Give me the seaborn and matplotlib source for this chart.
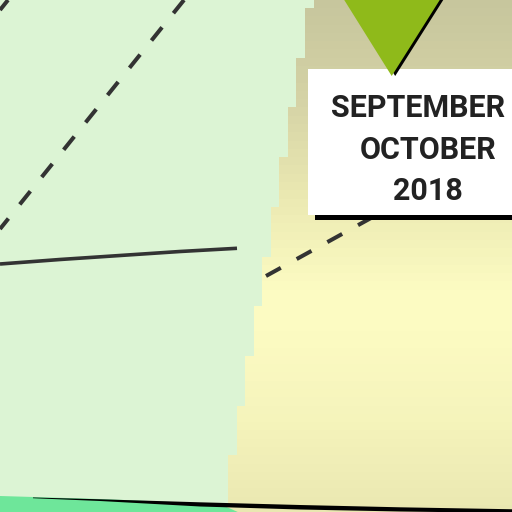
import numpy as np
import matplotlib
matplotlib.use("Agg")
import matplotlib.pyplot as plt
from matplotlib.colors import LinearSegmentedColormap
import seaborn as sns

# background bands (heatmap rows, top to bottom, ~8 px each)
row_shade = [0.00, 0.02, 0.04, 0.06, 0.08, 0.10, 0.12, 0.15, 0.17, 0.19,
             0.22, 0.24, 0.27, 0.29, 0.32, 0.35, 0.38, 0.41, 0.44, 0.47,
             0.50, 0.53, 0.56, 0.59, 0.62, 0.65, 0.68, 0.71, 0.74, 0.77,
             0.80, 0.83, 0.86, 0.89, 0.92, 0.95, 0.97, 0.99, 1.00, 1.00,
             1.00, 0.99, 0.98, 0.97, 0.96, 0.95, 0.94, 0.93, 0.91, 0.90,
             0.89, 0.87, 0.86, 0.84, 0.82, 0.80, 0.78, 0.76, 0.74, 0.72,
             0.70, 0.68, 0.66, 0.64, 0.62, 0.60]
# column where the green part ends, per step of the staircase
step_edge_col = [37, 36, 35, 34, 33, 32, 31, 30, 29, 28, 27, 26]
n_cols = 61

# lines (pixel coords of the picture)
dash_a_x = [184, 0]
dash_a_y = [0, 229]
dash_b_x = [8, 0]
dash_b_y = [0, 10]
dash_c_x = [266, 400]
dash_c_y = [276, 202]
solid_x = [0, 60, 120, 180, 237]
solid_y = [264, 259.5, 255.5, 251.5, 248.3]

# pointer, label box, bottom ribbon
tri_x = [343, 441, 391.7]
tri_y = [-2, -2, 76]
box_x = [308, 520, 520, 308]
box_y = [69, 69, 215, 215]
label_lines = ["SEPTEMBER", "OCTOBER", "2018"]
label_x = [418, 428, 428]
label_y = [108, 150, 191]
ribbon_x = [0, 100, 220, 240, 0]
ribbon_y = [496, 499, 504, 513, 513]
edge_top_x = [33, 100, 200, 300, 400, 515]
edge_top_y = [497.5, 499.3, 502.3, 505.0, 507.3, 509.3]
edge_bot_y = [498.2, 501.0, 506.5, 509.5, 511.5, 513.0]

green_bg = "#dcf4d4"
fig = plt.figure(figsize=(5.12, 5.12), dpi=100, facecolor=green_bg)

# heatmap background
n_rows = len(row_shade)
cw, rh = 8.55, 24.85 / 3
x0, y0 = -2.8, -16.85
hax = fig.add_axes([x0 / 512, 1 - (y0 + rh * n_rows) / 512,
                    cw * n_cols / 512, rh * n_rows / 512])
grid = np.tile(np.array(row_shade)[:, None], (1, n_cols))
# first step is one third of the others
row_edge = np.repeat(step_edge_col, 6)[3:3 + n_rows]
mask = np.arange(n_cols)[None, :] < row_edge[:, None]
cmap = LinearSegmentedColormap.from_list(
    "khaki", ["#c5c49c", "#d6d4a6", "#ebe9b2", "#fcfbc2"])
sns.heatmap(grid, mask=mask, cmap=cmap, vmin=0, vmax=1, cbar=False,
            xticklabels=False, yticklabels=False, ax=hax)
hax.axis("off")

# overlay in picture pixels
ax = fig.add_axes([0, 0, 1, 1])
ax.set_xlim(0, 512)
ax.set_ylim(512, 0)
ax.axis("off")

dark = "#333333"
dash_style = (0, (4.2, 4.5))
for xs, ys in [(dash_a_x, dash_a_y), (dash_b_x, dash_b_y), (dash_c_x, dash_c_y)]:
    sns.lineplot(x=xs, y=ys, sort=False, estimator=None, color=dark,
                 linewidth=2.9, linestyle=dash_style, ax=ax)
sns.lineplot(x=solid_x, y=solid_y, sort=False, estimator=None, color=dark,
             linewidth=2.6, solid_capstyle="butt", ax=ax)
ax.set_xlim(0, 512)
ax.set_ylim(512, 0)
ax.set_xlabel("")
ax.set_ylabel("")

# label box with shadow
ax.fill([v + 7 for v in box_x], [v + 5 for v in box_y], color="black", lw=0, zorder=3)
ax.fill(box_x, box_y, color="white", lw=0, zorder=3)
for txt, tx, ty in zip(label_lines, label_x, label_y):
    ax.text(tx, ty, txt, ha="center", va="center", fontsize=22,
            fontweight="bold", family=["Roboto", "DejaVu Sans"], color="#222222",
            zorder=4)

# pointer with its dark edge, on top of the box
ax.fill([v + 3.5 for v in tri_x], tri_y, color="black", lw=0, zorder=3)
ax.fill(tri_x, tri_y, color="#8fba1a", lw=0, zorder=3)

# bottom ribbon
ax.fill(ribbon_x, ribbon_y, color="#6ee69a", lw=0, zorder=3)
ax.fill(edge_top_x + edge_top_x[::-1], edge_top_y + edge_bot_y[::-1],
        color="black", lw=0, zorder=3)

fig.savefig("out.png", dpi=100, facecolor=fig.get_facecolor())
